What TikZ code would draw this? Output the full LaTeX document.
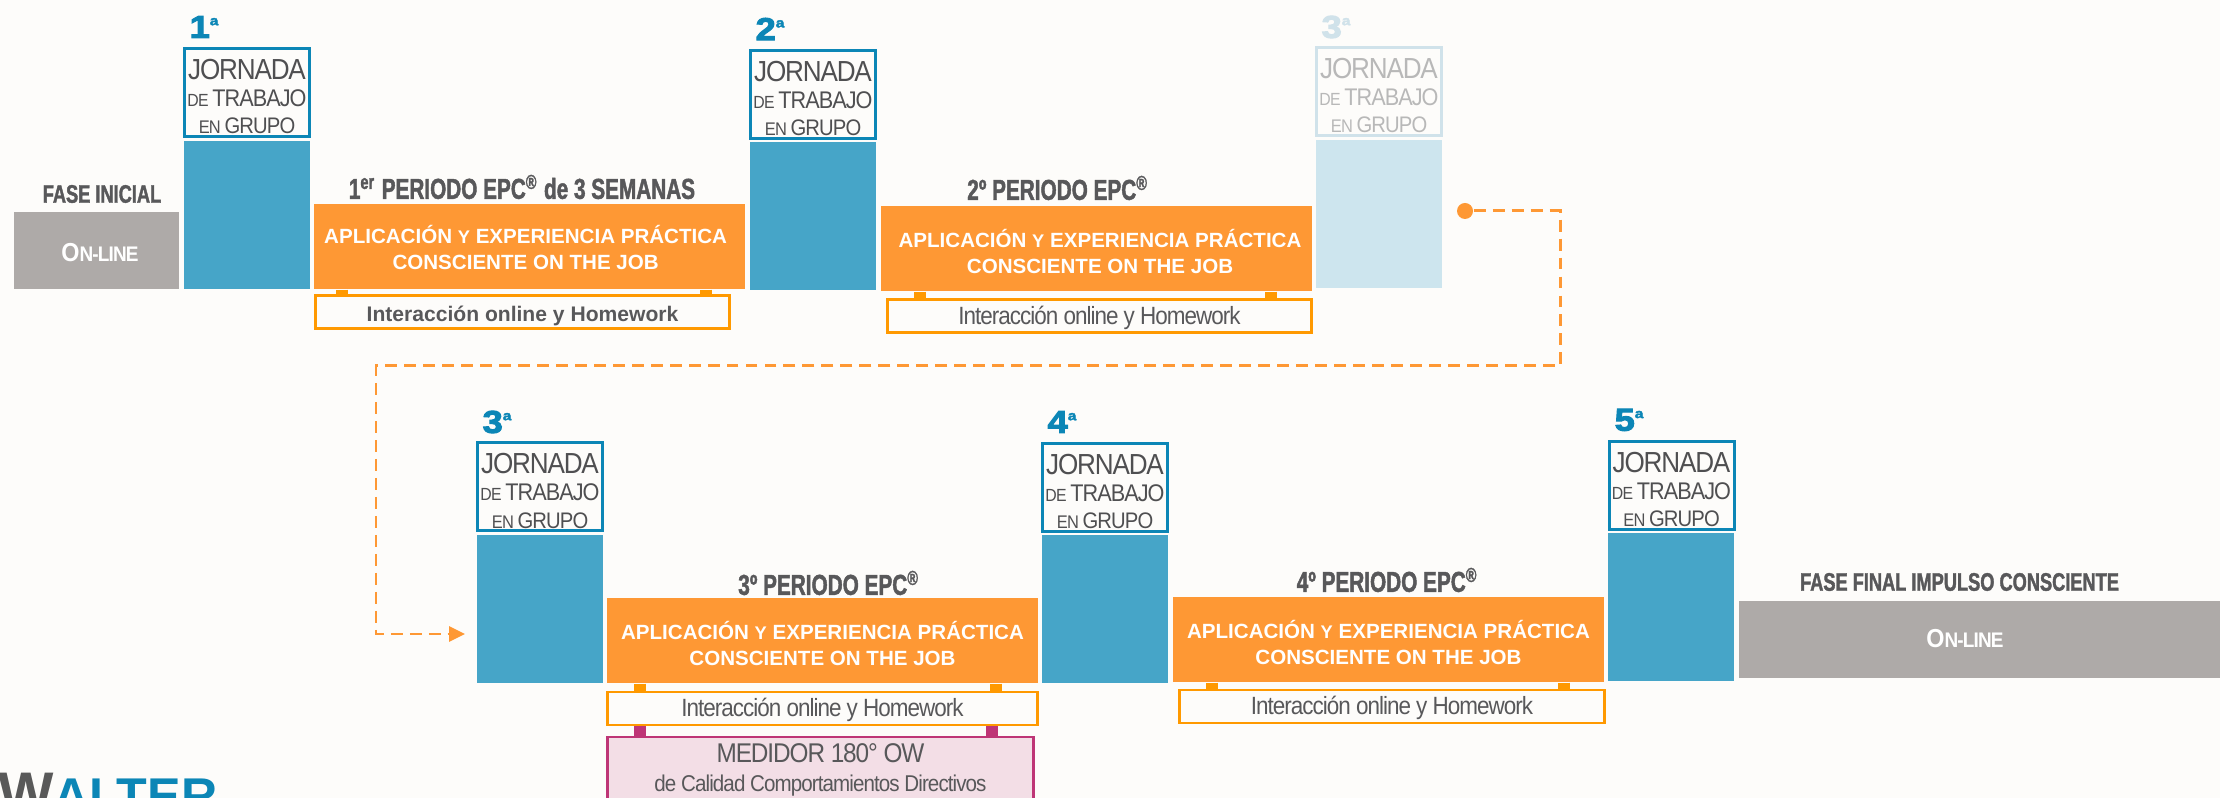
\documentclass[tikz,border=0pt]{standalone}
\usepackage{fontspec}
\usetikzlibrary{arrows.meta}
\setmainfont{Liberation Sans}
\newfontfamily\tightfont[LetterSpace=-4,FakeStretch=.9]{Liberation Sans}
\newfontfamily\heavyfont[FakeStretch=.72,FakeBold=1.5]{Liberation Sans Bold}
\newfontfamily\numfont[FakeStretch=1.15,FakeBold=3]{Liberation Sans Bold}
\definecolor{fondo}{HTML}{FDFCFA}
\definecolor{azul}{HTML}{46A5C8}
\definecolor{azulborde}{HTML}{0C86B6}
\definecolor{azulclaro}{HTML}{CDE5EE}
\definecolor{bordeclaro}{HTML}{D0E2EA}
\definecolor{naranja}{HTML}{FE9834}
\definecolor{enlace}{HTML}{FF9900}
\definecolor{gris}{HTML}{AEAAA8}
\definecolor{texto}{HTML}{58585A}
\definecolor{magenta}{HTML}{BE3576}
\definecolor{rosa}{HTML}{F3DEE6}
\newcommand{\jornadatxt}{\rule{0pt}{8pt}{\fontsize{8.25}{7.7}\selectfont JORNADA}\\{\fontsize{5}{7.7}\selectfont DE }{\fontsize{6.85}{7.7}\selectfont TRABAJO}\\{\fontsize{5.2}{7.7}\selectfont EN}{\fontsize{6.4}{7.7}\selectfont\,GRUPO}}
\newcommand{\aplicaciontxt}[2]{\rule{0pt}{#2}\hspace*{#1}APLICACIÓN {\fontsize{5.2}{7.4}\selectfont Y} EXPERIENCIA PRÁCTICA\\\hspace*{#1}CONSCIENTE ON THE JOB}
\newcommand{\onlinetxt}{{\fontsize{7.4}{8}\selectfont O}{\fontsize{6}{8}\selectfont N-LINE}}
\newcommand{\supa}{\raisebox{3.6pt}{\bfseries\fontsize{3.8}{4}\selectfont a}}
\begin{document}
\begin{tikzpicture}[bloque/.style={shape=rectangle,fill=azul,minimum width=1.26 cm,minimum height=1.48 cm,inner sep=0},
jornada/.style={shape=rectangle,draw=azulborde,line width=0.85pt,fill=fondo,text=texto!90!black,minimum width=1.25 cm,minimum height=0.88 cm,inner sep=0,align=center,font=\tightfont\fontsize{8}{7.7}\selectfont},
numero/.style={text=azulborde,inner sep=0,font=\numfont\fontsize{9}{9}\selectfont},
periodo/.style={text=texto,inner sep=0,font=\heavyfont\fontsize{8.2}{9}\selectfont},
fase/.style={periodo,font=\heavyfont\fontsize{7.2}{8}\selectfont},
practica/.style={shape=rectangle,fill=naranja,text=white,minimum width=4.31 cm,minimum height=0.85 cm,inner sep=0,align=center,font=\bfseries\fontsize{5.85}{7.4}\selectfont},
homework/.style={shape=rectangle,draw=enlace,line width=0.85pt,fill=fondo,text=texto,minimum height=0.33 cm,inner sep=0,text height=5.6pt,text depth=1pt,font=\tightfont\fontsize{7.1}{7.5}\selectfont},
online/.style={shape=rectangle,fill=gris,minimum height=0.77 cm,inner sep=0},
onlinetexto/.style={text=white,inner sep=0,font=\tightfont\bfseries},
tab/.style={color=enlace,line width=0.12 cm},
tabmedidor/.style={color=magenta,line width=0.12 cm},
avance/.style={color=naranja,line width=0.85pt,dash pattern=on 3.4pt off 2pt,-{Triangle[length=0.16cm,width=0.15cm]}}]
\useasboundingbox (0,0) rectangle (22.2,-7.98);
\clip (0,0) rectangle (22.2,-7.98);
\fill[fondo] (0,0) rectangle (22.2,-7.98);
% primera fila
\node[fase] (FI) at (1.02,-1.94) {FASE INICIAL};
\node[online,minimum width=1.65 cm] (L1) at (0.965,-2.505) {};
\node[onlinetexto] (LT1) at (1.00,-2.53) {\onlinetxt};
\node[numero] (N1) at (2.04,-0.27) {1\supa};
\node[jornada] (J1) at (2.47,-0.93) {\jornadatxt};
\node[bloque] (B1) at (2.47,-2.15) {};
\node[periodo] (T1) at (5.22,-1.87) {1\textsuperscript{er} PERIODO EPC\textsuperscript{®} de 3 SEMANAS};
\node[practica] (O1) at (5.295,-2.465) {\aplicaciontxt{-2.2pt}{6pt}};
\node[homework,minimum width=4.14 cm,text height=6.4pt,font=\bfseries\fontsize{6}{7}\selectfont] (H1) at (5.225,-3.12) {Interacción online y Homework};
\node[numero] (N2) at (7.70,-0.29) {2\supa};
\node[jornada] (J2) at (8.13,-0.945) {\jornadatxt};
\node[bloque] (B2) at (8.13,-2.16) {};
\node[periodo] (T2) at (10.58,-1.88) {2º PERIODO EPC\textsuperscript{®}};
\node[practica] (O2) at (10.965,-2.485) {\aplicaciontxt{2pt}{7pt}};
\node[homework,minimum width=4.24 cm] (H2) at (10.995,-3.16) {Interacción online y Homework};
\node[numero,text=bordeclaro] (N3X) at (13.36,-0.27) {3\supa};
\node[jornada,draw=bordeclaro,text=black!28] (J3X) at (13.79,-0.92) {\jornadatxt};
\node[bloque,fill=azulclaro] (B3X) at (13.79,-2.14) {};
% segunda fila
\node[numero] (N3) at (4.97,-4.22) {3\supa};
\node[jornada] (J3) at (5.40,-4.87) {\jornadatxt};
\node[bloque] (B3) at (5.40,-6.09) {};
\node[periodo] (T3) at (8.29,-5.83) {3º PERIODO EPC\textsuperscript{®}};
\node[practica] (O3) at (8.225,-6.405) {\aplicaciontxt{0pt}{7pt}};
\node[homework,minimum width=4.30 cm] (H3) at (8.225,-7.085) {Interacción online y Homework};
\node[shape=rectangle,draw=magenta,line width=0.6pt,fill=rosa,text=texto,minimum width=4.26 cm,minimum height=0.66 cm,inner sep=0,align=center,font=\tightfont\fontsize{7.7}{8}\selectfont] (M) at (8.205,-7.70) {MEDIDOR 180° OW\\[0.3pt]{\fontsize{6.5}{7}\selectfont de Calidad Comportamientos Directivos}};
\node[numero] (N4) at (10.62,-4.22) {4\supa};
\node[jornada] (J4) at (11.05,-4.875) {\jornadatxt};
\node[bloque] (B4) at (11.05,-6.09) {};
\node[periodo] (T4) at (13.875,-5.80) {4º PERIODO EPC\textsuperscript{®}};
\node[practica] (O4) at (13.885,-6.395) {\aplicaciontxt{0pt}{7pt}};
\node[homework,minimum width=4.25 cm] (H4) at (13.92,-7.065) {Interacción online y Homework};
\node[numero] (N5) at (16.29,-4.20) {5\supa};
\node[jornada] (J5) at (16.715,-4.855) {\jornadatxt};
\node[bloque] (B5) at (16.71,-6.07) {};
\node[fase] (FF) at (19.595,-5.82) {FASE FINAL IMPULSO CONSCIENTE};
\node[online,minimum width=4.81 cm] (L5) at (19.795,-6.395) {};
\node[onlinetexto] (LT5) at (19.65,-6.39) {\onlinetxt};
% enlaces
\draw[tab] ([xshift=0.29 cm]O1.south west) -- ([xshift=0.29 cm]O1.south west |- H1.north);
\draw[tab] ([xshift=-0.40 cm]O1.south east) -- ([xshift=-0.40 cm]O1.south east |- H1.north);
\draw[tab] ([xshift=0.40 cm]O2.south west) -- ([xshift=0.40 cm]O2.south west |- H2.north);
\draw[tab] ([xshift=-0.42 cm]O2.south east) -- ([xshift=-0.42 cm]O2.south east |- H2.north);
\draw[tab] ([xshift=0.34 cm]O3.south west) -- ([xshift=0.34 cm]O3.south west |- H3.north);
\draw[tab] ([xshift=-0.43 cm]O3.south east) -- ([xshift=-0.43 cm]O3.south east |- H3.north);
\draw[tab] ([xshift=0.40 cm]O4.south west) -- ([xshift=0.40 cm]O4.south west |- H4.north);
\draw[tab] ([xshift=-0.41 cm]O4.south east) -- ([xshift=-0.41 cm]O4.south east |- H4.north);
\draw[tabmedidor] ([xshift=0.34 cm]H3.south west) -- ([xshift=0.34 cm]H3.south west |- M.north);
\draw[tabmedidor] ([xshift=-0.47 cm]H3.south east) -- ([xshift=-0.47 cm]H3.south east |- M.north);
% salto de fila
\node[shape=circle,fill=naranja,minimum size=0.16 cm,inner sep=0] (P) at (14.65,-2.11) {};
\coordinate (C1) at (15.60,-3.66);
\coordinate (C2) at (3.76,-3.66);
\coordinate (F) at (4.65,-6.34);
\draw[avance] (P) -| (C1) -- (C2) |- (F);
% logo
\node[anchor=base west,inner sep=0,text=black!65,font=\bfseries\fontsize{16.7}{17}\selectfont] (W) at (-0.02,-8.14) {W};
\node[anchor=base west,inner sep=0,text=azulborde,font=\bfseries\fontsize{14.3}{15}\selectfont] (LG) at (0.53,-8.14) {ALTER};
\end{tikzpicture}
\end{document}
